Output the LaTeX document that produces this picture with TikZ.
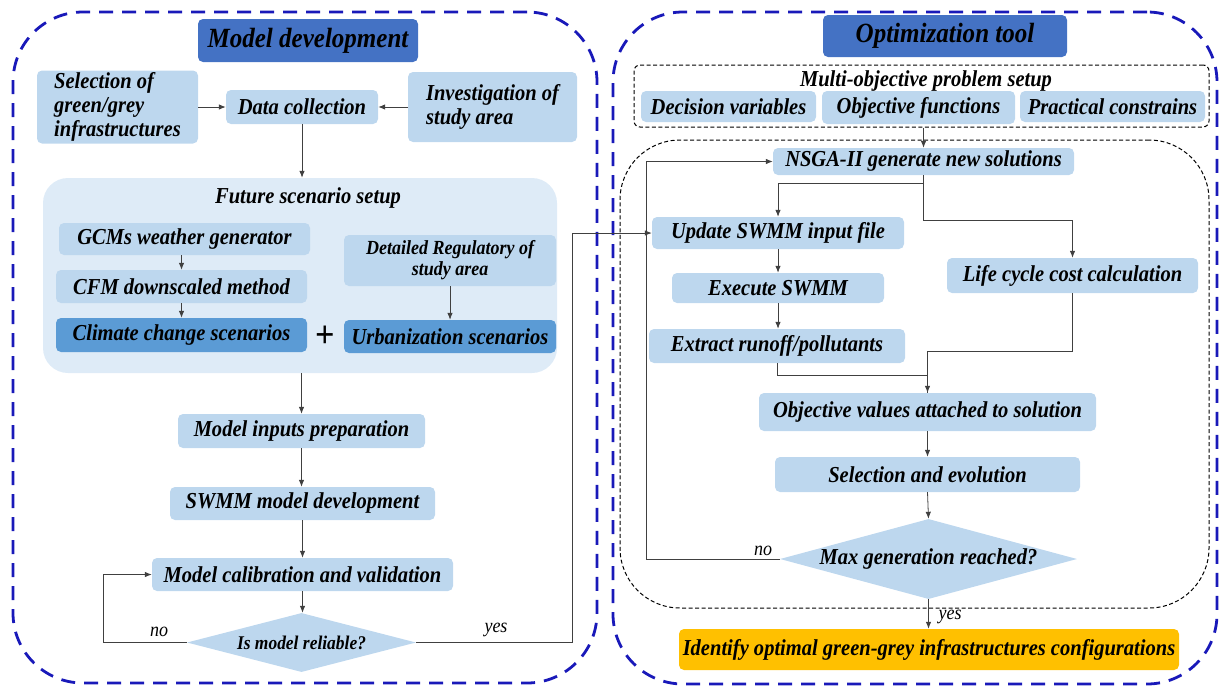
\documentclass[tikz,border=0pt]{standalone}
\usepackage{fontspec}
\setmainfont{Liberation Serif}[FakeStretch=0.9]
\usetikzlibrary{positioning,arrows.meta,shapes.geometric}
\definecolor{boxblue}{HTML}{BDD7EE}
\definecolor{bgblue}{HTML}{DEEBF7}
\definecolor{deepblue}{HTML}{5B9BD5}
\definecolor{headblue}{HTML}{4472C4}
\definecolor{frameblue}{RGB}{25,25,185}
\definecolor{goldbox}{HTML}{FFC000}
\tikzset{
  bx/.style={rectangle, rounded corners=5pt, fill=boxblue, inner sep=2pt, font=\fontsize{22.8}{24}\selectfont\bfseries\itshape},
  dk/.style={bx, fill=deepblue},
  hd/.style={bx, fill=headblue, font=\fontsize{27.8}{30}\selectfont\bfseries\itshape},
  dia/.style={diamond, fill=boxblue, inner sep=0pt, font=\fontsize{22.8}{24}\selectfont\bfseries\itshape},
  frm/.style={draw=frameblue, line width=2.8pt, dash pattern=on 14pt off 9pt, rounded corners=70pt},
  dsh/.style={draw=black, line width=1pt, dash pattern=on 4pt off 2.5pt},
  cn/.style={draw=black!75, line width=0.8pt, -{Latex[length=7pt,width=5.5pt]}},
  ln/.style={draw=black!75, line width=0.8pt},
  lbl/.style={font=\fontsize{20}{20}\selectfont\itshape, inner sep=1pt}
}
\begin{document}
\begin{tikzpicture}[x=1pt, y=-1pt]
  \useasboundingbox (0,0) rectangle (1220,688);
  % frames
  \node[frm, minimum width=584pt, minimum height=671pt] (devframe) at (305,347.5) {};
  \node[frm, minimum width=604pt, minimum height=672pt] (optframe) at (915,348) {};

  % model development
  \node[hd, minimum width=220pt, minimum height=43pt] (devtitle) at (308,40.5) {Model development};
  \node[bx, align=left, minimum width=161pt, minimum height=73pt] (selinfra) at (117.5,107) {Selection of\\green/grey\\infrastructures};
  \node[bx, minimum width=152pt, minimum height=34pt] (datacoll) at (302,107) {Data collection};
  \node[bx, align=left, minimum width=169pt, minimum height=70pt] (investig) at (492.5,107) {Investigation of\\study area};
  \node[rectangle, rounded corners=25pt, fill=bgblue, minimum width=514pt, minimum height=195pt] (futurebox) at (300,275.5) {};
  \node[font=\fontsize{22.8}{24}\selectfont\bfseries\itshape] (futtitle) at (308,198) {Future scenario setup};
  \node[bx, minimum width=251pt, minimum height=32pt] (gcms) at (184.5,239) {GCMs weather generator};
  \node[bx, minimum width=251pt, minimum height=33pt] (cfm) at (181.5,286.5) {CFM downscaled method};
  \node[dk, minimum width=251pt, minimum height=34pt] (climate) at (181.5,335) {Climate change scenarios};
  \node[bx, align=center, font=\fontsize{20}{21}\selectfont\bfseries\itshape, minimum width=212pt, minimum height=51pt] (detreg) at (450,260.5) {Detailed Regulatory of\\study area};
  \node[dk, minimum width=212pt, minimum height=33pt] (urban) at (450,336.5) {Urbanization scenarios};
  \node[font=\fontsize{38}{38}\selectfont\bfseries, inner sep=0pt] (plus) at (325,337) {+};
  \node[bx, minimum width=247pt, minimum height=34pt] (inputs) at (301.5,431) {Model inputs preparation};
  \node[bx, minimum width=265pt, minimum height=33pt] (swmmdev) at (302.5,503.5) {SWMM model development};
  \node[bx, minimum width=301pt, minimum height=33pt] (calib) at (302.5,574.5) {Model calibration and validation};
  \node[dia, font=\fontsize{19.4}{20}\selectfont\bfseries\itshape, aspect=3.9, minimum width=229pt, minimum height=59pt] (reliable) at (301.5,642.5) {Is model reliable?};
  \coordinate (yesbend) at (572,0);
  \node[lbl] (nolbl) at (159,632) {no};
  \node[lbl] (yeslbl) at (496,630) {yes};

  \draw[cn] (selinfra.east) -- (datacoll.west);
  \draw[cn] (investig.west) -- (datacoll.east);
  \draw[cn] (datacoll.south) -- (datacoll.south |- futurebox.north);
  \draw[cn] (cfm.north |- gcms.south) -- (cfm.north);
  \draw[cn] (cfm.south) -- (climate.north);
  \draw[cn] (detreg.south) -- (urban.north);
  \draw[cn] (inputs.north |- futurebox.south) -- (inputs.north);
  \draw[cn] (inputs.south) -- (inputs.south |- swmmdev.north);
  \draw[cn] (swmmdev.south) -- (swmmdev.south |- calib.north);
  \draw[cn] (calib.south) -- (calib.south |- reliable.north);
  \draw[cn] (reliable.west) -- ++(-83,0) |- (calib.west);

  % optimization tool
  \node[hd, minimum width=244pt, minimum height=42pt] (opttitle) at (945,36) {Optimization tool};
  \node[dsh, rectangle, rounded corners=6pt, minimum width=575pt, minimum height=62pt] (multibox) at (921.5,96) {};
  \node[font=\fontsize{22.8}{24}\selectfont\bfseries\itshape, inner sep=0pt] (multititle) at (926,81) {Multi-objective problem setup};
  \node[bx, minimum width=175pt, minimum height=31pt] (decvar) at (728.5,106.5) {Decision variables};
  \node[bx, minimum width=193pt, minimum height=33pt] (objfun) at (918.5,107.5) {\raisebox{-2pt}{Objective functions}};
  \node[bx, minimum width=185pt, minimum height=31pt] (practcon) at (1112.5,106.5) {Practical constrains};
  \node[dsh, rectangle, rounded corners=60pt, minimum width=589pt, minimum height=468pt] (loopbox) at (914.5,374) {};
  \node[bx, minimum width=301pt, minimum height=27pt] (nsga) at (923.5,161.5) {NSGA-II generate new solutions};
  \node[bx, minimum width=252pt, minimum height=32pt] (update) at (778,233) {Update SWMM input file};
  \node[bx, minimum width=212pt, minimum height=30pt] (execute) at (778,288) {Execute SWMM};
  \node[bx, minimum width=256pt, minimum height=34pt] (extract) at (777,346) {Extract runoff/pollutants};
  \node[bx, minimum width=251pt, minimum height=35pt] (lcc) at (1072.5,275.5) {Life cycle cost calculation};
  \node[bx, minimum width=337pt, minimum height=38pt] (objval) at (927.5,412) {Objective values attached to solution};
  \node[bx, minimum width=305pt, minimum height=35pt] (selevo) at (927.5,474.5) {Selection and evolution};
  \node[dia, aspect=3.7, minimum width=297pt, minimum height=80pt] (maxgen) at (928.5,559) {Max generation reached?};
  \node[bx, fill=goldbox, minimum width=500pt, minimum height=41pt] (identify) at (929,649.5) {Identify optimal green-grey infrastructures configurations};
  \coordinate (noback) at (646,0);
  \node[lbl] (nolbl2) at (763,551) {no};
  \node[lbl] (yeslbl2) at (950,617) {yes};

  \draw[cn] (reliable.east) -- (reliable.east -| yesbend) |- (update.west);
  \draw[cn] (multibox.south -| nsga) -- (nsga.north);
  \draw[cn] (nsga.south) -- ++(0,8) -| (update.north);
  \draw[cn] (nsga.south) -- ++(0,45) -| (lcc.north);
  \draw[cn] (update.south) -- (update.south |- execute.north);
  \draw[cn] (execute.south) -- (execute.south |- extract.north);
  \draw[ln] (extract.south) -- ++(0,12) -| (objval.north);
  \draw[cn] (lcc.south) -- ++(0,58) -| (objval.north);
  \draw[cn] (objval.south) -- (selevo.north);
  \draw[cn] (selevo.south) -- (maxgen.north);
  \draw[cn] (maxgen.west) -- (maxgen.west -| noback) |- (nsga.west);
  \draw[cn] (maxgen.south) -- (maxgen.south |- identify.north);
\end{tikzpicture}
\end{document}
